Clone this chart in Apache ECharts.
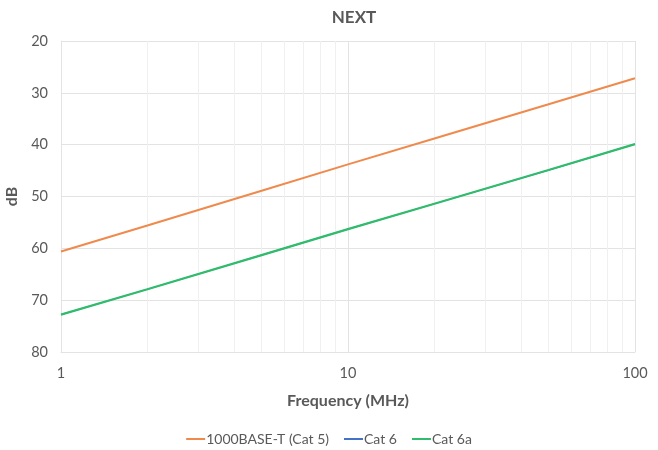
<!DOCTYPE html>
<html>
<head>
<meta charset="utf-8">
<script src="https://cdn.jsdelivr.net/npm/echarts@6/dist/echarts.min.js"></script>
<style>html,body{margin:0;padding:0;background:#fff}#c{width:658px;height:450px}</style>
</head>
<body>
<div id="c"></div>
<script>
var titleText = 'NEXT';
var xName = 'Frequency (MHz)';
var yName = 'dB';
var freqs = [1, 2, 5, 10, 20, 50, 100];
var cat5 = [60.6, 55.6, 48.9, 43.8, 38.8, 32.2, 27.2];
var cat6 = [72.8, 67.9, 61.3, 56.3, 51.4, 44.9, 39.9];
var cat6a = [72.8, 67.9, 61.3, 56.3, 51.4, 44.9, 39.9];
var seriesNames = ['1000BASE-T (Cat 5)', 'Cat 6', 'Cat 6a'];
var minorGrid = [2, 3, 4, 5, 6, 7, 8, 9, 20, 30, 40, 50, 60, 70, 80, 90];

var FONT = 'Lato, "Open Sans", sans-serif';
var TXT = '#595959';
var GRID = '#e3e3e3';

function pairs(vals) { return freqs.map(function (f, i) { return [f, vals[i]]; }); }

var chart = echarts.init(document.getElementById('c'), null, { renderer: 'canvas' });
chart.setOption({
  animation: false,
  textStyle: { fontFamily: FONT },
  title: {
    text: titleText, left: 349, top: 4, textAlign: 'center',
    textStyle: { fontFamily: FONT, fontSize: 17, fontWeight: 'bold', color: TXT }
  },
  legend: {
    data: seriesNames, top: 427, left: 'center',
    icon: 'rect', itemWidth: 19, itemHeight: 2, itemGap: 15,
    textStyle: { fontFamily: FONT, fontSize: 14, color: TXT, padding: [0, 0, 0, -4] }
  },
  grid: { left: 61, right: 23, top: 41, bottom: 98, containLabel: false, outerBoundsMode: 'none' },
  xAxis: {
    type: 'log', logBase: 10, min: 1, max: 100,
    name: xName, nameLocation: 'middle', nameGap: 41,
    nameTextStyle: { fontFamily: FONT, fontSize: 16, fontWeight: 'bold', color: TXT },
    axisLine: { show: true, lineStyle: { color: GRID } },
    axisTick: { show: false },
    axisLabel: { color: TXT, fontSize: 14.5, fontFamily: FONT, margin: 14 },
    splitLine: { show: true, lineStyle: { color: GRID, width: 1 } }
  },
  yAxis: {
    type: 'value', inverse: true, min: 20, max: 80, interval: 10,
    name: yName, nameLocation: 'middle', nameGap: 36, nameRotate: 90,
    nameTextStyle: { fontFamily: FONT, fontSize: 16, fontWeight: 'bold', color: TXT },
    axisLine: { show: true, lineStyle: { color: GRID } },
    axisTick: { show: false },
    axisLabel: { color: TXT, fontSize: 14.5, fontFamily: FONT, margin: 13 },
    splitLine: { show: true, lineStyle: { color: GRID, width: 1 } }
  },
  series: [
    {
      name: seriesNames[0], type: 'line', data: pairs(cat5), showSymbol: false, smooth: false,
      itemStyle: { color: '#EF8A4C' }, lineStyle: { color: '#EF8A4C', width: 2 }, z: 3,
      markLine: {
        silent: true, symbol: 'none', label: { show: false },
        lineStyle: { color: '#f0f0f0', width: 1, type: 'solid' },
        data: minorGrid.map(function (v) { return { xAxis: v }; }),
        z: 1
      }
    },
    {
      name: seriesNames[1], type: 'line', data: pairs(cat6), showSymbol: false,
      itemStyle: { color: '#4472C4' }, lineStyle: { color: '#4472C4', width: 1.2 }, z: 3
    },
    {
      name: seriesNames[2], type: 'line', data: pairs(cat6a), showSymbol: false,
      itemStyle: { color: '#30BC6C' }, lineStyle: { color: '#30BC6C', width: 2.2 }, z: 4
    }
  ]
});
</script>
</body>
</html>
